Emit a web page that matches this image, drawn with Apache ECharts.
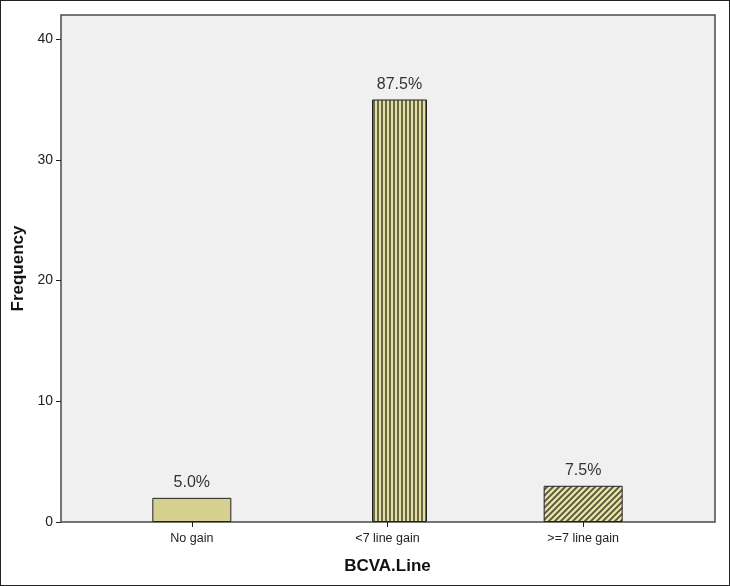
<!DOCTYPE html>
<html>
<head>
<meta charset="utf-8">
<script src="https://cdn.jsdelivr.net/npm/echarts@6/dist/echarts.min.js"></script>
<style>
html,body{margin:0;padding:0;background:#fff;}
#chart{width:730px;height:586px;box-sizing:border-box;border:1px solid #222;}
</style>
</head>
<body>
<div id="chart"></div>
<script>
const categories = ['No gain', '<7 line gain', '>=7 line gain'];
const frequency = [2, 35, 3];
const percentLabels = ['5.0%', '87.5%', '7.5%'];
const yTicks = { min: 0, max: 42, interval: 10 };

function makePattern(kind) {
  const c = document.createElement('canvas');
  const ctx = c.getContext('2d');
  if (kind === 'vertical') {
    c.width = 4; c.height = 4;
    ctx.fillStyle = '#e3dfa6'; ctx.fillRect(0, 0, 4, 4);
    ctx.fillStyle = '#6c6a44'; ctx.fillRect(0, 0, 2, 4);
  } else {
    c.width = 6; c.height = 6;
    ctx.fillStyle = '#e6e2a6'; ctx.fillRect(0, 0, 6, 6);
    ctx.strokeStyle = '#55533a'; ctx.lineWidth = 1.8;
    ctx.beginPath();
    ctx.moveTo(-1, 7); ctx.lineTo(7, -1);
    ctx.moveTo(-1, 1); ctx.lineTo(1, -1);
    ctx.moveTo(5, 7); ctx.lineTo(7, 5);
    ctx.stroke();
  }
  return { image: c, repeat: 'repeat' };
}

const wideW = 79, narrowW = 55;
const wideData = frequency.map((v, i) => {
  if (i === 1) return null;
  const item = { value: v };
  if (i === 2) item.itemStyle = { color: makePattern('diag') };
  return item;
});
const narrowData = frequency.map((v, i) => i === 1 ? { value: v, itemStyle: { color: makePattern('vertical') } } : null);

const labelCfg = {
  show: true, position: 'top', distance: 7,
  fontFamily: 'Liberation Sans, Arial, sans-serif', fontSize: 16, color: '#333',
  formatter: p => percentLabels[p.dataIndex]
};

const chart = echarts.init(document.getElementById('chart'), null, { renderer: 'canvas' });
chart.setOption({
  animation: false,
  backgroundColor: '#fff',
  textStyle: { fontFamily: 'Liberation Sans, Arial, sans-serif' },
  grid: [
    { left: 60, right: 14, top: 14, bottom: 63, show: true, backgroundColor: '#f0f0f1', borderColor: '#4a4a4a', borderWidth: 1.5, outerBoundsMode: 'none', containLabel: false },
    { left: 93, right: 48, top: 14, bottom: 63, outerBoundsMode: 'none', containLabel: false }
  ],
  xAxis: [
    { gridIndex: 0, type: 'value', show: false, min: 0, max: 1 },
    {
      gridIndex: 1, type: 'category', data: categories, boundaryGap: true,
      axisLine: { show: false },
      axisTick: { show: true, alignWithLabel: true, length: 5, lineStyle: { color: '#222', width: 1 } },
      axisLabel: { fontSize: 12.5, color: '#222', margin: 10 },
      name: 'BCVA.Line', nameLocation: 'middle', nameGap: 36,
      nameTextStyle: { fontSize: 17, fontWeight: 'bold', color: '#111' }
    }
  ],
  yAxis: [
    { gridIndex: 0, type: 'value', show: false, min: 0, max: 1 },
    {
      gridIndex: 1, type: 'value', min: yTicks.min, max: yTicks.max, interval: yTicks.interval,
      offset: 33,
      axisLine: { show: false },
      axisTick: { show: true, inside: false, length: 5, lineStyle: { color: '#222', width: 1 } },
      axisLabel: { fontSize: 14, color: '#222', margin: 8, showMaxLabel: false },
      splitLine: { show: false },
      name: 'Frequency', nameLocation: 'middle', nameGap: 31,
      nameTextStyle: { fontSize: 17, fontWeight: 'bold', color: '#111' }
    }
  ],
  series: [
    {
      type: 'bar', xAxisIndex: 1, yAxisIndex: 1, data: wideData,
      barWidth: wideW, barGap: (-narrowW / wideW * 100).toFixed(2) + '%',
      itemStyle: { color: '#d5cf90', borderColor: '#222', borderWidth: 1 },
      label: labelCfg
    },
    {
      type: 'bar', xAxisIndex: 1, yAxisIndex: 1, data: narrowData,
      barWidth: narrowW,
      itemStyle: { color: '#d5cf90', borderColor: '#222', borderWidth: 1 },
      label: labelCfg
    }
  ]
});
</script>
</body>
</html>
